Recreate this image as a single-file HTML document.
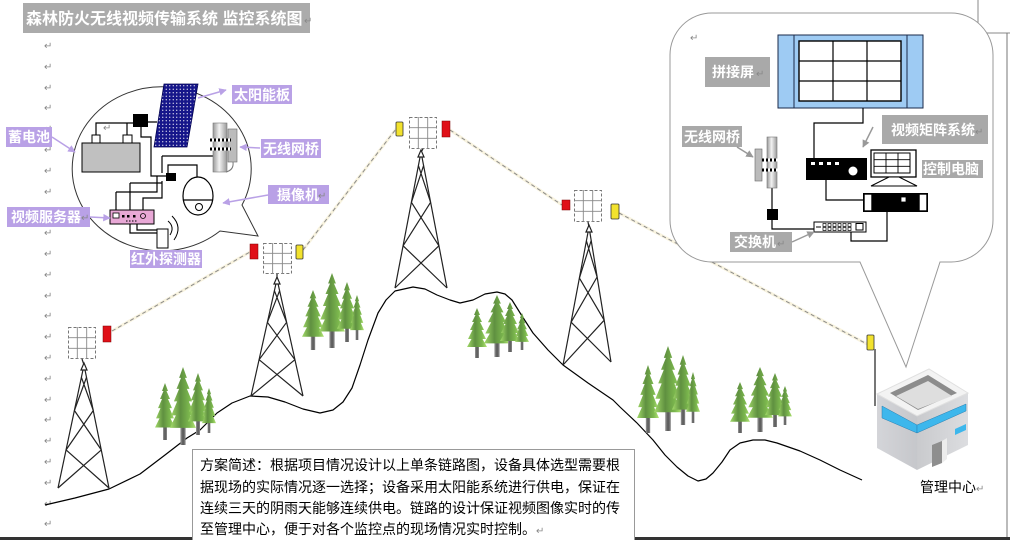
<!DOCTYPE html>
<html><head><meta charset="utf-8"><style>
html,body{margin:0;padding:0;background:#fff;}
svg{display:block;font-family:"Liberation Sans","Noto Sans CJK SC",sans-serif;}
.rm{font-family:"DejaVu Sans",sans-serif;font-size:10px;fill:#888;}
.lb{font-size:14px;font-weight:bold;fill:#fff;}
.w{stroke:#000;stroke-width:1.2;fill:none;}
.tw{stroke:#222;stroke-width:1.2;fill:none;}
</style></head><body>
<svg width="1010" height="540" viewBox="0 0 1010 540" xmlns="http://www.w3.org/2000/svg">
<defs>
<linearGradient id="leaf" x1="0" x2="1" y1="0" y2="0">
<stop offset="0" stop-color="#a4dc6a"/><stop offset="0.4" stop-color="#5f9040"/><stop offset="0.75" stop-color="#7cb84e"/><stop offset="1" stop-color="#b4e476"/>
</linearGradient>
<linearGradient id="trunk" x1="0" x2="1"><stop offset="0" stop-color="#9a9a9a"/><stop offset="0.5" stop-color="#555"/><stop offset="1" stop-color="#8a8a8a"/></linearGradient>
<linearGradient id="cyl" x1="0" x2="1"><stop offset="0" stop-color="#999"/><stop offset="0.45" stop-color="#f2f2f2"/><stop offset="1" stop-color="#9a9a9a"/></linearGradient>
<linearGradient id="bl" x1="0" x2="1"><stop offset="0" stop-color="#d4d5d9"/><stop offset="1" stop-color="#c6c7cb"/></linearGradient>
<linearGradient id="br" x1="0" x2="1"><stop offset="0" stop-color="#c9cacd"/><stop offset="1" stop-color="#dcdde0"/></linearGradient>
<pattern id="dots" width="3.5" height="3.5" patternUnits="userSpaceOnUse"><rect width="3.5" height="3.5" fill="#16168a"/><circle cx="1.75" cy="1.75" r="0.6" fill="#fff"/></pattern>
<symbol id="tree" viewBox="0 0 40 100" preserveAspectRatio="none">
<rect x="16" y="60" width="8" height="40" fill="url(#trunk)"/>
<polygon points="20,0 26,14 23,14 30,28 26,28 34,44 29,44 38,62 31,62 40,78 0,78 9,62 2,62 11,44 6,44 14,28 10,28 17,14 14,14" fill="url(#leaf)"/>
</symbol>
<symbol id="grid" viewBox="0 0 28 32" preserveAspectRatio="none">
<rect x="0.5" y="0.5" width="27" height="31" fill="none" stroke="#777" stroke-dasharray="3,2"/>
<path d="M9.3,0 V32 M18.7,0 V32 M0,10.7 H28 M0,21.3 H28" stroke="#888" stroke-width="0.9"/>
</symbol>
<marker id="ap" viewBox="0 0 10 10" refX="9" refY="5" markerWidth="5" markerHeight="5" orient="auto"><path d="M0,0 L10,5 L0,10 z" fill="#b9a1e6"/></marker>
<marker id="ag" viewBox="0 0 10 10" refX="9" refY="5" markerWidth="5" markerHeight="5" orient="auto"><path d="M0,0 L10,5 L0,10 z" fill="#999"/></marker>
</defs>
<rect width="1010" height="540" fill="#fff"/>

<!-- return marks -->
<g class="rm">
<text x="44" y="49">↵</text><text x="44" y="70">↵</text><text x="44" y="91">↵</text><text x="44" y="111">↵</text>
<text x="44" y="132">↵</text><text x="44" y="153">↵</text><text x="44" y="174">↵</text><text x="44" y="195">↵</text>
<text x="44" y="215">↵</text><text x="44" y="236">↵</text><text x="44" y="257">↵</text><text x="44" y="278">↵</text>
<text x="44" y="299">↵</text><text x="44" y="319">↵</text><text x="44" y="340">↵</text><text x="44" y="361">↵</text>
<text x="44" y="382">↵</text><text x="44" y="403">↵</text><text x="44" y="423">↵</text><text x="44" y="444">↵</text>
<text x="44" y="465">↵</text><text x="44" y="486">↵</text><text x="44" y="507">↵</text><text x="44" y="527">↵</text>
</g>

<!-- page borders / corner mark -->
<path d="M978,0 V33 H1010" stroke="#888" fill="none"/>
<line x1="1007" y1="33" x2="1007" y2="540" stroke="#777"/>
<rect x="0" y="537" width="1010" height="3" fill="#333"/>

<!-- title -->
<rect x="23" y="3" width="287" height="30" fill="#ababab"/>
<text x="26" y="24" font-size="16" font-weight="bold" fill="#fff">森林防火无线视频传输系统 监控系统图</text>
<text x="304" y="24" class="rm">↵</text>

<!-- mountain -->
<polyline class="w" stroke-width="1.6" stroke-linejoin="round" points="45,505 75,498 109,489 140,474 165,455 187,438 200,430 217,413 232,403 250,396 268,397 285,402 303,409 320,413 333,410 343,402 352,388 360,365 368,340 378,313 386,300 395,291 413,287 425,289 437,295 450,300 460,303 473,300 485,294 497,292 505,294 512,300 522,316 533,333 548,350 563,365 588,383 613,400 620,407 637,423 653,440 665,455 677,467 688,476 698,481 706,479 713,473 722,462 730,450 740,443 753,440 765,440 777,443 800,451 820,460 840,470 862,480"/>

<!-- trees -->
<use href="#tree" x="155" y="383" width="20" height="57"/>
<use href="#tree" x="170" y="367" width="26" height="78"/>
<use href="#tree" x="188" y="373" width="20" height="62"/>
<use href="#tree" x="202" y="388" width="14" height="45"/>
<use href="#tree" x="302" y="290" width="22" height="60"/>
<use href="#tree" x="319" y="273" width="26" height="75"/>
<use href="#tree" x="337" y="282" width="20" height="60"/>
<use href="#tree" x="350" y="295" width="14" height="45"/>
<use href="#tree" x="467" y="308" width="20" height="50"/>
<use href="#tree" x="484" y="295" width="26" height="62"/>
<use href="#tree" x="500" y="302" width="20" height="50"/>
<use href="#tree" x="515" y="313" width="14" height="37"/>
<use href="#tree" x="637" y="365" width="22" height="68"/>
<use href="#tree" x="654" y="346" width="28" height="85"/>
<use href="#tree" x="672" y="355" width="22" height="70"/>
<use href="#tree" x="686" y="372" width="14" height="51"/>
<use href="#tree" x="730" y="382" width="20" height="51"/>
<use href="#tree" x="747" y="367" width="26" height="65"/>
<use href="#tree" x="765" y="373" width="20" height="54"/>
<use href="#tree" x="778" y="386" width="14" height="39"/>

<!-- dashed links -->
<g fill="none">
<path d="M112,331 L250,252 M303,250 L396,129 M450,130 L562,205 M619,213 L867,344" stroke="#f8f3df" stroke-width="3"/>
<path d="M112,331 L250,252 M303,250 L396,129 M450,130 L562,205 M619,213 L867,344" stroke="#8a8a8a" stroke-width="1" stroke-dasharray="4,3"/>
</g>

<!-- towers -->
<g class="tw">
<polyline points="58,488 84,365 109,488"/>
<path d="M81.4,377.3 L93.3,410.5 M86.5,377.3 L74.4,410.5 M74.4,410.5 L101.3,449.9 M93.3,410.5 L66.1,449.9 M66.1,449.9 L109,488 M101.3,449.9 L58,488 M82,359 L84,365"/>
<polygon points="81,370 84,363 87,370" fill="#fff"/>
<polyline points="251,396 277,279 303,396"/>
<path d="M274.4,290.7 L286.6,322.3 M279.6,290.7 L267.4,322.3 M267.4,322.3 L294.9,359.7 M286.6,322.3 L259.1,359.7 M259.1,359.7 L303,396 M294.9,359.7 L251,396 M277,274 L277,279"/>
<polygon points="274,284 277,277 280,284" fill="#fff"/>
<polyline points="395,288 421,152 447,288"/>
<path d="M418.4,165.6 L430.6,202.3 M423.6,165.6 L411.4,202.3 M411.4,202.3 L438.9,245.8 M430.6,202.3 L403.1,245.8 M403.1,245.8 L447,288 M438.9,245.8 L395,288 M423,149 L421,152"/>
<polygon points="418,157 421,150 424,157" fill="#fff"/>
<polyline points="563,365 589,227 611,362"/>
<path d="M586.4,240.8 L597.1,277 M591.2,240.5 L579.4,278.1 M579.4,278.1 L604.2,320.2 M597.1,277 L571.1,322.2 M571.1,322.2 L611,362 M604.2,320.2 L563,365 M588,222 L589,227"/>
<polygon points="586,232 589,225 592,232" fill="#fff"/>
</g>
<use href="#grid" x="68" y="327" width="28" height="32"/>
<use href="#grid" x="263" y="243" width="29" height="31"/>
<use href="#grid" x="409" y="117" width="28" height="32"/>
<use href="#grid" x="574" y="190" width="28" height="32"/>
<g stroke="#7a0000" stroke-width="0.5">
<rect x="103" y="326" width="8" height="16" fill="#e01018"/>
<rect x="250" y="244" width="8" height="15" fill="#e01018"/>
<rect x="442" y="121" width="8" height="16" fill="#e01018"/>
<rect x="562" y="200" width="8" height="10" fill="#e01018"/>
</g>
<g stroke="#333" stroke-width="0.8">
<rect x="296" y="245" width="7" height="14" rx="1" fill="#f2e22e"/>
<rect x="396" y="122" width="7" height="14" rx="1" fill="#f2e22e"/>
<rect x="611" y="204" width="8" height="15" rx="1" fill="#f2e22e"/>
<rect x="867" y="335" width="7" height="15" rx="1" fill="#f2e22e"/>
</g>

<!-- building -->
<line x1="875" y1="349" x2="875" y2="406" stroke="#777" stroke-width="2"/>
<polygon points="877,394 917,416 917,470 877,448" fill="url(#bl)"/>
<polygon points="917,416 968,393 968,445 917,470" fill="url(#br)"/>
<polygon points="877,394 929,369 968,393 917,416" fill="#f3f3f3" stroke="#e0e0e0"/>
<polygon points="890,393 928,375 957,393 918,410" fill="#8c8c8c"/>
<polygon points="896,396 928,381 952,396 918,409" fill="#dedede"/>
<polygon points="882,406 917,425 917,433 882,418" fill="#3db7ec" stroke="#2a7fb0" stroke-width="0.5"/>
<polygon points="917,425 966,404 966,411 917,433" fill="#3db7ec" stroke="#2a7fb0" stroke-width="0.5"/>
<polygon points="955,429 966,424 966,430 955,435" fill="#3db7ec"/>
<polygon points="932,445 942,441 942,463 932,467" fill="#8e8e8e"/>
<polygon points="942,441 947,438 947,459 942,463" fill="#ececec"/>
<text x="920" y="492" font-size="14" fill="#000">管理中心</text>
<text x="976" y="492" class="rm">↵</text>

<!-- bottom description box -->
<rect x="192.5" y="449.5" width="442" height="95" fill="#fff" stroke="#999"/>
<g font-size="14" fill="#000">
<text x="200" y="470">方案简述：根据项目情况设计以上单条链路图，设备具体选型需要根</text>
<text x="200" y="492">据现场的实际情况逐一选择；设备采用太阳能系统进行供电，保证在</text>
<text x="200" y="513">连续三天的阴雨天能够连续供电。链路的设计保证视频图像实时的传</text>
<text x="200" y="534">至管理中心，便于对各个监控点的现场情况实时控制。</text>
</g>
<text x="536" y="534" class="rm">↵</text>

<!-- LEFT BUBBLE -->
<path d="M242,205 L258,236 L220,231 A89.5,82 0 1 1 242,205 Z" fill="#fff" stroke="#333" stroke-width="1"/>
<polygon points="164,84 198,84 187,147 154,147" fill="url(#dots)" stroke="#000050" stroke-width="0.8"/>
<rect x="82" y="143" width="58" height="29" fill="#c0c0c0" stroke="#000"/>
<rect x="92" y="135" width="8" height="8" fill="#fff" stroke="#000"/>
<rect x="123" y="135" width="9" height="8" fill="#fff" stroke="#000"/>
<path class="w" d="M96,135 V123 H133 M127,135 V123 M148,122 H157"/>
<text x="103" y="131" class="rm" font-size="8">↵</text>
<rect x="133" y="114" width="15" height="13" fill="#000"/>
<path class="w" d="M141,127 V137 H151 V176 H166 M162,156 H215 M162,156 V173 M168,173 V165 H197 V178 M162,181 V198 H143 V213 M130,183 H162 M130,183 V210 M116,192 H157 V176 M116,192 V213 M130,224 V233 H157 M137,224 V230 H157"/>
<rect x="166" y="173" width="10" height="8" fill="#000"/>
<rect x="213" y="123" width="14" height="49" fill="url(#cyl)" stroke="#777" stroke-width="0.6"/>
<rect x="228" y="129" width="9" height="33" fill="#bbb" stroke="#666" stroke-width="0.6"/>
<path d="M210,140 H231 M210,149 H231" stroke="#fff" stroke-width="3"/>
<path d="M210,140 H231 M210,149 H231" stroke="#000" stroke-width="3" stroke-dasharray="2,2"/>
<path d="M233,162 Q234,170 226,172" stroke="#777" fill="none"/>
<ellipse cx="198" cy="196" rx="15" ry="19" fill="#fff" stroke="#000" stroke-width="1.2"/>
<line x1="183" y1="200" x2="213" y2="200" stroke="#000" stroke-width="1.2"/>
<circle cx="199" cy="207" r="3.5" fill="#fff" stroke="#000"/>
<rect x="110" y="210" width="44" height="14" fill="#e8a8d6" stroke="#000"/>
<rect x="113" y="213" width="6" height="5" fill="#fff" stroke="#000" stroke-width="0.8"/>
<rect x="122" y="215" width="2.5" height="2.5" fill="#000"/>
<rect x="127" y="215" width="2.5" height="2.5" fill="#000"/>
<rect x="133" y="215" width="2.5" height="2.5" fill="#000"/>
<path d="M126,221 H138" stroke="#000" stroke-dasharray="1.5,1.5"/>
<circle cx="143" cy="216" r="2.5" fill="none" stroke="#000" stroke-width="0.8"/>
<rect x="157" y="229" width="11" height="19" fill="#fff" stroke="#000"/>
<path d="M168,221 Q175,227 170,235 M172,216 Q183,227 174,240" fill="none" stroke="#000"/>
<g fill="#b9a1e6">
<rect x="232" y="85" width="60" height="19"/>
<rect x="6" y="127" width="46" height="20"/>
<rect x="261" y="139" width="60" height="19"/>
<rect x="268" y="185" width="61" height="19"/>
<rect x="7" y="207" width="83" height="20"/>
<rect x="130" y="250" width="72" height="18"/>
</g>
<g class="lb">
<text x="234" y="100">太阳能板</text>
<text x="8" y="142">蓄电池</text>
<text x="263" y="154">无线网桥</text>
<text x="277" y="200">摄像机</text>
<text x="11" y="222">视频服务器</text>
<text x="131" y="264">红外探测器</text>
</g>
<text x="318" y="199" class="rm">↵</text>
<text x="81" y="221" class="rm">↵</text>
<g stroke="#b9a1e6" stroke-width="1.5" fill="none">
<line x1="198" y1="98" x2="226" y2="90" marker-end="url(#ap)"/>
<line x1="52" y1="137" x2="75" y2="152" marker-end="url(#ap)"/>
<line x1="260" y1="148" x2="240" y2="147" marker-end="url(#ap)"/>
<line x1="268" y1="195" x2="223" y2="203" marker-end="url(#ap)"/>
<line x1="90" y1="217" x2="110" y2="218" marker-end="url(#ap)"/>
</g>

<!-- RIGHT BUBBLE -->
<path d="M712,13 H951 A42,42 0 0 1 993,55 V220 A42,42 0 0 1 951,262 H940 L906,367 L860,262 H712 A42,42 0 0 1 670,220 V55 A42,42 0 0 1 712,13 Z" fill="#fff" stroke="#999" stroke-width="1"/>
<text x="690" y="41" class="rm">↵</text>
<rect x="778" y="35" width="145" height="73" fill="#9ecbf3" stroke="#1a2a4a" stroke-width="1"/>
<path d="M794,35 V108 M907,35 V108" stroke="#1a2a4a"/>
<rect x="799" y="41" width="102" height="60" fill="#fff" stroke="#000" stroke-width="1.4"/>
<path d="M833,41 V101 M867,41 V101 M799,61 H901 M799,81 H901" stroke="#000" stroke-width="1.2"/>
<path class="w" d="M863,108 V123 H814 V158 M826,180 V200 H863 M887,212 V241 H851 V232 M772,188 V209 M772,220 V229 H814"/>
<rect x="806" y="158" width="61" height="22" fill="#000"/>
<g fill="#fff"><rect x="811" y="162" width="4" height="3"/><rect x="819" y="162" width="4" height="3"/><rect x="827" y="162" width="4" height="3"/><rect x="835" y="162" width="4" height="3"/></g>
<circle cx="853" cy="171" r="4.5" fill="#fff"/>
<rect x="871" y="150" width="45" height="27" fill="#fff" stroke="#000" stroke-width="1.3"/>
<rect x="874" y="153" width="36" height="20" fill="#fff" stroke="#000" stroke-width="1"/>
<path d="M886,153 V173 M898,153 V173 M874,159.7 H910 M874,166.3 H910" stroke="#000" stroke-width="0.9"/>
<polygon points="889,177 899,177 917,186 871,186" fill="#fff" stroke="#000"/>
<rect x="863" y="193" width="65" height="19" fill="#000"/>
<rect x="864" y="194" width="8" height="17" fill="#fff" stroke="#000" stroke-width="1.4"/>
<rect x="919" y="194" width="8" height="17" fill="#fff" stroke="#000" stroke-width="1.4"/>
<rect x="901" y="197" width="5" height="5" fill="#fff" stroke="#000" stroke-width="0.8"/>
<rect x="814" y="222" width="52" height="10" fill="#fff" stroke="#000"/>
<path d="M816,227 H821" stroke="#000"/>
<g fill="none" stroke="#000" stroke-width="0.7">
<rect x="823" y="223.5" width="3" height="3"/><rect x="828" y="223.5" width="3" height="3"/><rect x="833" y="223.5" width="3" height="3"/><rect x="838" y="223.5" width="3" height="3"/><rect x="843" y="223.5" width="3" height="3"/><rect x="848" y="223.5" width="3" height="3"/>
<rect x="823" y="227.5" width="3" height="3"/><rect x="828" y="227.5" width="3" height="3"/><rect x="833" y="227.5" width="3" height="3"/><rect x="838" y="227.5" width="3" height="3"/><rect x="843" y="227.5" width="3" height="3"/><rect x="848" y="227.5" width="3" height="3"/>
<rect x="856" y="223.5" width="7" height="6.5" stroke-width="1"/>
</g>
<rect x="767" y="137" width="10" height="51" fill="url(#cyl)" stroke="#777" stroke-width="0.6"/>
<rect x="755" y="149" width="7" height="32" fill="#bbb" stroke="#666" stroke-width="0.6"/>
<path d="M762,160 H778 M762,170 H778" stroke="#fff" stroke-width="3"/>
<path d="M762,160 H778 M762,170 H778" stroke="#000" stroke-width="3" stroke-dasharray="2,2"/>
<rect x="767" y="209" width="11" height="11" fill="#000"/>
<g fill="#a9a9a9">
<rect x="705" y="57" width="65" height="30"/>
<rect x="882" y="115" width="106" height="29"/>
<rect x="922" y="160" width="61" height="18"/>
<rect x="682" y="126" width="60" height="21"/>
<rect x="730" y="232" width="62" height="20"/>
</g>
<g class="lb">
<text x="712" y="77">拼接屏</text>
<text x="891" y="135">视频矩阵系统</text>
<text x="923" y="174">控制电脑</text>
<text x="684" y="142">无线网桥</text>
<text x="734" y="247">交换机</text>
</g>
<g class="rm" fill="#eee"><text x="756" y="77">↵</text><text x="975" y="135">↵</text><text x="777" y="247">↵</text></g>
<g stroke="#999" stroke-width="1.5" fill="none">
<line x1="737" y1="147" x2="753" y2="157" marker-end="url(#ag)"/>
<line x1="873" y1="127" x2="863" y2="147" marker-end="url(#ag)"/>
<line x1="792" y1="242" x2="814" y2="232" marker-end="url(#ag)"/>
</g>
</svg>
</body></html>
